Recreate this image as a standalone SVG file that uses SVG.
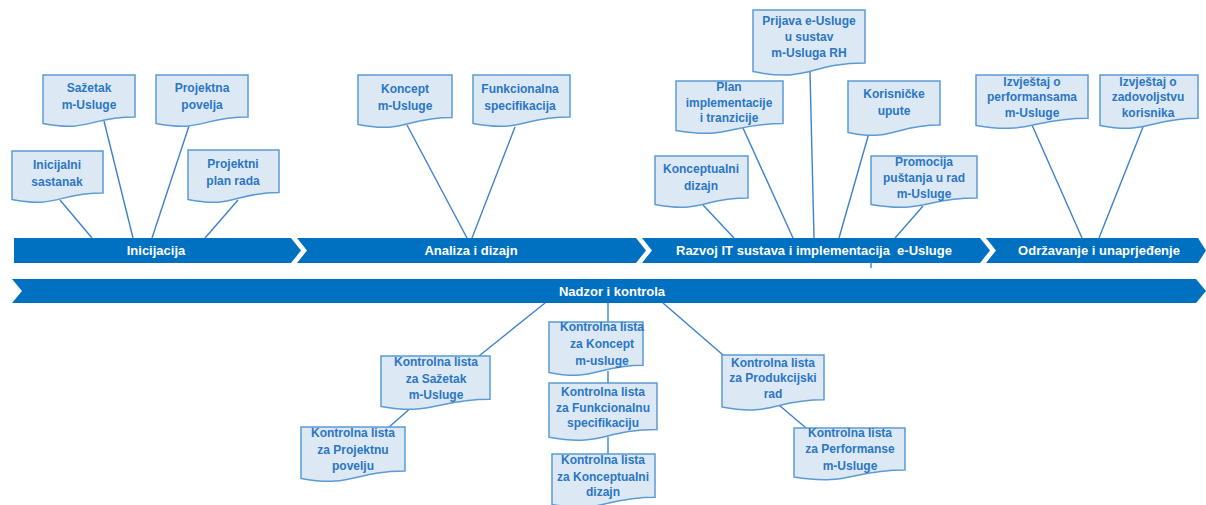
<svg xmlns="http://www.w3.org/2000/svg" width="1206" height="505" viewBox="0 0 1206 505">
  <style>
    .bar { fill: #0070c0; }
    .bar-label { font-family: "Liberation Sans", Arial, sans-serif; font-weight: bold; font-size: 13px; fill: #ffffff; text-anchor: middle; white-space: pre; }
    .doc { fill: #dde8f5; stroke: #5b9bd5; stroke-width: 1.5; }
    .doc-label { font-family: "Liberation Sans", Arial, sans-serif; font-weight: bold; font-size: 12px; fill: #2a76c4; text-anchor: middle; }
    .link { stroke: #3b82c9; stroke-width: 1.4; fill: none; }
  </style>

  <!-- phase bars -->
  <g id="phases">
    <g id="phase-inicijacija">
      <polygon class="bar" points="14,238 291,238 301,250.5 291,263 14,263"/>
      <text class="bar-label" x="156" y="255">Inicijacija</text>
    </g>
    <g id="phase-analiza">
      <polygon class="bar" points="297,238 636,238 646,250.5 636,263 297,263 307,250.5"/>
      <text class="bar-label" x="471" y="255">Analiza i dizajn</text>
    </g>
    <g id="phase-razvoj">
      <polygon class="bar" points="642,238 980,238 990,250.5 980,263 642,263 652,250.5"/>
      <text class="bar-label" x="814" y="255">Razvoj IT sustava i implementacija  e-Usluge</text>
    </g>
    <g id="phase-odrzavanje">
      <polygon class="bar" points="986,238 1198,238 1206,250.5 1198,263 986,263 996,250.5"/>
      <text class="bar-label" x="1099" y="255">Održavanje i unaprjeđenje</text>
    </g>
    <g id="phase-nadzor">
      <polygon class="bar" points="12,279 1196,279 1206,291 1196,303 12,303 22,291"/>
      <text class="bar-label" x="612" y="296">Nadzor i kontrola</text>
    </g>
  </g>

  <!-- connectors -->
  <g id="connectors">
    <line class="link" x1="60" y1="200" x2="92" y2="238"/>
    <line class="link" x1="104" y1="121" x2="133" y2="238"/>
    <line class="link" x1="189" y1="126" x2="152" y2="238"/>
    <line class="link" x1="238" y1="200" x2="205" y2="238"/>
    <line class="link" x1="407" y1="125" x2="467" y2="238"/>
    <line class="link" x1="515" y1="127" x2="472" y2="238"/>
    <line class="link" x1="703" y1="205" x2="734" y2="238"/>
    <line class="link" x1="743" y1="128" x2="793" y2="238"/>
    <line class="link" x1="810" y1="72" x2="814" y2="238"/>
    <line class="link" x1="869" y1="133" x2="839" y2="238"/>
    <line class="link" x1="923" y1="206" x2="895" y2="238"/>
    <line class="link" x1="1032" y1="125" x2="1082" y2="238"/>
    <line class="link" x1="1143" y1="127" x2="1099" y2="238"/>
    <line class="link" x1="871" y1="262" x2="871" y2="268"/>
    <line class="link" x1="545" y1="303" x2="479" y2="356"/>
    <line class="link" x1="412" y1="407" x2="389" y2="427"/>
    <line class="link" x1="608" y1="303" x2="608" y2="322"/>
    <line class="link" x1="608" y1="371" x2="608" y2="383"/>
    <line class="link" x1="608" y1="437" x2="608" y2="454"/>
    <line class="link" x1="663" y1="303" x2="723" y2="355"/>
    <line class="link" x1="779" y1="405" x2="806" y2="428"/>
  </g>

  <!-- document nodes: rectangle with wavy lower edge -->
  <g id="inicijalni-sastanak">
    <path class="doc" d="M12,151 H103 V193 C57.5,193 57.5,208.5 12,199.5 Z"/>
    <text class="doc-label" x="57" y="169">Inicijalni</text>
    <text class="doc-label" x="57" y="186">sastanak</text>
  </g>
  <g id="sazetak-m-usluge">
    <path class="doc" d="M43,75 H135 V117 C89,117 89,132.5 43,123.5 Z"/>
    <text class="doc-label" x="89" y="92">Sažetak</text>
    <text class="doc-label" x="89" y="109">m-Usluge</text>
  </g>
  <g id="projektna-povelja">
    <path class="doc" d="M156,75 H248 V117 C202,117 202,132.5 156,123.5 Z"/>
    <text class="doc-label" x="202" y="92">Projektna</text>
    <text class="doc-label" x="202" y="109">povelja</text>
  </g>
  <g id="projektni-plan-rada">
    <path class="doc" d="M188,150 H279 V192.5 C233.5,192.5 233.5,208.7 188,199.5 Z"/>
    <text class="doc-label" x="233" y="168">Projektni</text>
    <text class="doc-label" x="233" y="185">plan rada</text>
  </g>
  <g id="koncept-m-usluge">
    <path class="doc" d="M358,75 H452 V117.5 C405,117.5 405,133.7 358,124.5 Z"/>
    <text class="doc-label" x="405" y="93">Koncept</text>
    <text class="doc-label" x="405" y="110">m-Usluge</text>
  </g>
  <g id="funkcionalna-specifikacija">
    <path class="doc" d="M473,75 H570 V117 C521.5,117 521.5,132.5 473,123.5 Z"/>
    <text class="doc-label" x="520" y="93">Funkcionalna</text>
    <text class="doc-label" x="520" y="110">specifikacija</text>
  </g>
  <g id="prijava-e-usluge">
    <path class="doc" d="M753,10 H865 V63 C809,63 809,83 753,71.6 Z"/>
    <text class="doc-label" x="809" y="25">Prijava e-Usluge</text>
    <text class="doc-label" x="809" y="41">u sustav</text>
    <text class="doc-label" x="809" y="57">m-Usluga RH</text>
  </g>
  <g id="plan-implementacije">
    <path class="doc" d="M676,81 H783 V123.5 C729.5,123.5 729.5,139.7 676,130.5 Z"/>
    <text class="doc-label" x="729" y="91">Plan</text>
    <text class="doc-label" x="729" y="107">implementacije</text>
    <text class="doc-label" x="729" y="122">i tranzicije</text>
  </g>
  <g id="korisnicke-upute">
    <path class="doc" d="M848,81 H940 V125 C894,125 894,141.9 848,132.4 Z"/>
    <text class="doc-label" x="894" y="98">Korisničke</text>
    <text class="doc-label" x="894" y="115">upute</text>
  </g>
  <g id="konceptualni-dizajn">
    <path class="doc" d="M655,156 H748 V198 C701.5,198 701.5,213.5 655,204.5 Z"/>
    <text class="doc-label" x="701" y="173">Konceptualni</text>
    <text class="doc-label" x="701" y="190">dizajn</text>
  </g>
  <g id="promocija-pustanja">
    <path class="doc" d="M871,156 H977 V198 C924,198 924,213.5 871,204.5 Z"/>
    <text class="doc-label" x="924" y="166">Promocija</text>
    <text class="doc-label" x="924" y="182">puštanja u rad</text>
    <text class="doc-label" x="924" y="198">m-Usluge</text>
  </g>
  <g id="izvjestaj-performanse">
    <path class="doc" d="M976,75 H1088 V118.3 C1032,118.3 1032,134.8 976,125.4 Z"/>
    <text class="doc-label" x="1032" y="86">Izvještaj o</text>
    <text class="doc-label" x="1032" y="101">performansama</text>
    <text class="doc-label" x="1032" y="117">m-Usluge</text>
  </g>
  <g id="izvjestaj-zadovoljstvo">
    <path class="doc" d="M1100,75 H1198 V118.3 C1149,118.3 1149,134.8 1100,125.4 Z"/>
    <text class="doc-label" x="1148" y="86">Izvještaj o</text>
    <text class="doc-label" x="1148" y="101">zadovoljstvu</text>
    <text class="doc-label" x="1148" y="117">korisnika</text>
  </g>

  <g id="kl-sazetak">
    <path class="doc" d="M381,356 H490 V399.3 C435.5,399.3 435.5,415.8 381,406.4 Z"/>
    <text class="doc-label" x="436" y="366">Kontrolna lista</text>
    <text class="doc-label" x="436" y="383">za Sažetak</text>
    <text class="doc-label" x="436" y="399">m-Usluge</text>
  </g>
  <g id="kl-projektna-povelja">
    <path class="doc" d="M301,427 H405 V471 C353,471 353,487.9 301,478.4 Z"/>
    <text class="doc-label" x="353" y="437">Kontrolna lista</text>
    <text class="doc-label" x="353" y="454">za Projektnu</text>
    <text class="doc-label" x="353" y="470">povelju</text>
  </g>
  <g id="kl-koncept">
    <path class="doc" d="M549,322 H643 V365.3 C596,365.3 596,381.8 549,372.4 Z"/>
    <text class="doc-label" x="602" y="331">Kontrolna lista</text>
    <text class="doc-label" x="602" y="348">za Koncept</text>
    <text class="doc-label" x="602" y="365">m-usluge</text>
  </g>
  <g id="kl-funkcionalna">
    <path class="doc" d="M549,383 H657 V429.5 C603,429.5 603,447.2 549,437.2 Z"/>
    <text class="doc-label" x="603" y="396">Kontrolna lista</text>
    <text class="doc-label" x="603" y="412">za Funkcionalnu</text>
    <text class="doc-label" x="603" y="427">specifikaciju</text>
  </g>
  <g id="kl-konceptualni">
    <path class="doc" d="M552,454 H655 V497.3 C603.5,497.3 603.5,513.8 552,504.4 Z"/>
    <text class="doc-label" x="603" y="464">Kontrolna lista</text>
    <text class="doc-label" x="603" y="481">za Konceptualni</text>
    <text class="doc-label" x="603" y="496">dizajn</text>
  </g>
  <g id="kl-produkcijski">
    <path class="doc" d="M722,355 H824 V399.7 C773,399.7 773,416.7 722,407 Z"/>
    <text class="doc-label" x="773" y="367">Kontrolna lista</text>
    <text class="doc-label" x="773" y="382">za Produkcijski</text>
    <text class="doc-label" x="773" y="398">rad</text>
  </g>
  <g id="kl-performanse">
    <path class="doc" d="M794,428 H905 V470.1 C849.5,470.1 849.5,486.1 794,477 Z"/>
    <text class="doc-label" x="850" y="437">Kontrolna lista</text>
    <text class="doc-label" x="850" y="453">za Performanse</text>
    <text class="doc-label" x="850" y="470">m-Usluge</text>
  </g>
</svg>
